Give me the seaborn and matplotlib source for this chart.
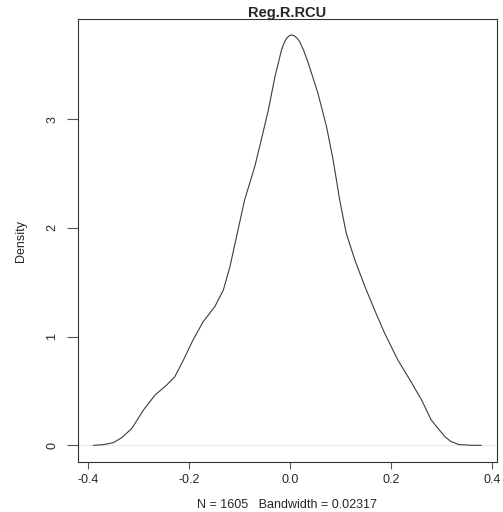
import matplotlib
matplotlib.use('Agg')
import matplotlib.pyplot as plt
import pandas as pd
import seaborn as sns

# density curve
dens_x = [-0.389, -0.370, -0.350, -0.333, -0.313, -0.290, -0.267, -0.244, -0.228,
          -0.211, -0.192, -0.172, -0.149, -0.132, -0.119, -0.106, -0.090, -0.070,
          -0.057, -0.043, -0.030, -0.017, -0.012, -0.007, -0.002, 0.003, 0.008,
          0.013, 0.019, 0.027, 0.036, 0.055,
          0.072, 0.085, 0.098, 0.111, 0.128, 0.148, 0.167, 0.187, 0.213, 0.237,
          0.260, 0.279, 0.306, 0.318, 0.333, 0.355, 0.378]
dens_y = [0.000, 0.006, 0.024, 0.070, 0.156, 0.325, 0.463, 0.555, 0.631,
          0.785, 0.969, 1.137, 1.275, 1.429, 1.643, 1.919, 2.257, 2.563,
          2.809, 3.085, 3.391, 3.637, 3.700, 3.744, 3.766, 3.775, 3.768,
          3.748, 3.713, 3.630, 3.514, 3.238,
          2.931, 2.625, 2.257, 1.950, 1.705, 1.459, 1.245, 1.030, 0.785, 0.601,
          0.417, 0.233, 0.079, 0.035, 0.008, 0.001, 0.000]

x_ticks = [-0.4, -0.2, 0.0, 0.2, 0.4]
x_labels = ['-0.4', '-0.2', '0.0', '0.2', '0.4']
y_ticks = [0, 1, 2, 3]

title = 'Reg.R.RCU'
subtitle = 'N = 1605   Bandwidth = 0.02317'

df = pd.DataFrame({'x': dens_x, 'y': dens_y})

sns.set_style('white')
plt.rcParams['font.family'] = ['Liberation Sans', 'DejaVu Sans']

fig = plt.figure(figsize=(5.03, 5.12), dpi=100)
ax = fig.add_axes([0.1545, 0.0977, 0.8335, 0.8643])

# faint zero line like R's plot.density
ax.axhline(0, color='#e6e6e6', lw=0.6, zorder=1)
sns.lineplot(data=df, x='x', y='y', ax=ax, color='#3c3c3c', lw=0.8, zorder=2)

ax.set_xlim(-0.42, 0.409)
ax.set_ylim(-0.153, 3.917)
ax.set_xticks(x_ticks)
ax.set_xticklabels(x_labels, fontsize=9)
ax.set_yticks(y_ticks)
ax.set_yticklabels([str(t) for t in y_ticks], fontsize=9, rotation=90, va='center')
ax.tick_params(axis='x', direction='out', length=5, width=0.8, color='#555555', pad=4,
               bottom=True)
ax.tick_params(axis='y', direction='out', length=8, width=0.8, color='#555555', pad=6,
               left=True)
for s in ax.spines.values():
    s.set_visible(True)
    s.set_color('#333333')
    s.set_linewidth(0.8)

ax.set_xlabel(subtitle, fontsize=9, labelpad=9)
ax.set_ylabel('Density', fontsize=9, labelpad=14)
ax.set_title(title, fontsize=10.5, fontweight='bold', pad=2)

fig.savefig('out.png', dpi=100)
